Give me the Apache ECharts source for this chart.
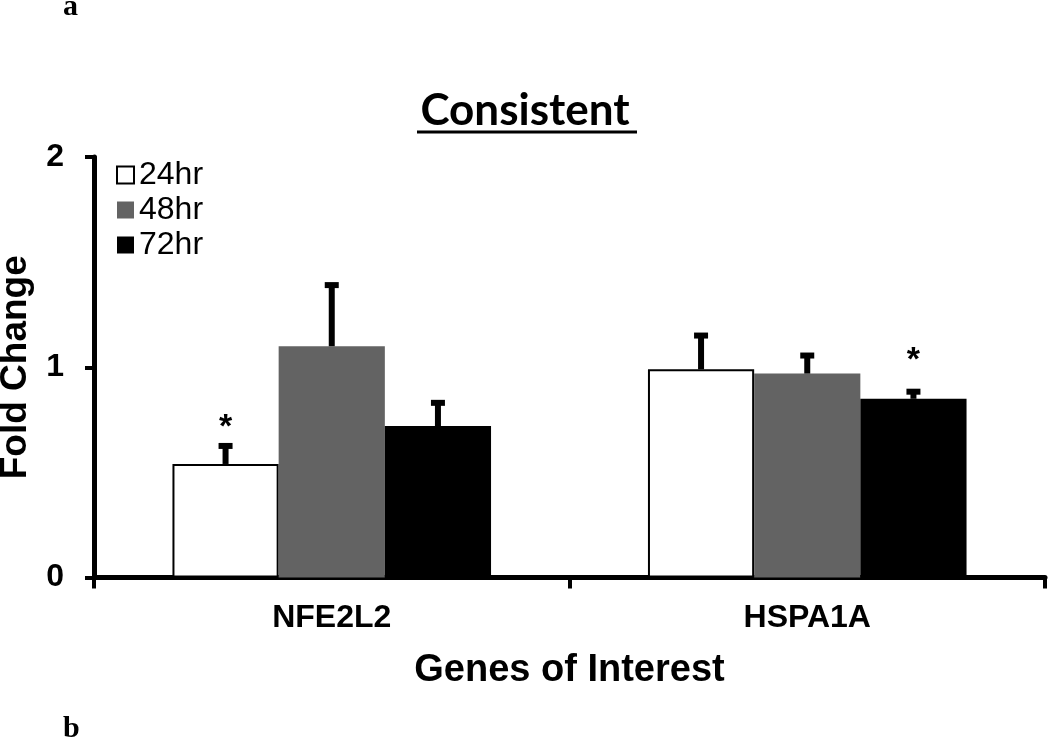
<!DOCTYPE html>
<html>
<head>
<meta charset="utf-8">
<script src="https://cdn.jsdelivr.net/npm/echarts@6/dist/echarts.min.js"></script>
<style>
html,body{margin:0;padding:0;background:#fff;}
#c{width:1050px;height:740px;}
</style>
</head>
<body>
<div id="c"></div>
<script>
// ---- data ----
const categories = ['NFE2L2', 'HSPA1A'];
const seriesNames = ['24hr', '48hr', '72hr'];
const values24 = [0.54, 0.99];
const values48 = [1.10, 0.97];
const values72 = [0.72, 0.85];
const err24 = [0.10, 0.175];
const err48 = [0.305, 0.10];
const err72 = [0.125, 0.048];
// asterisk (significance) positions in data units, null = none
const sig24 = [0.75, null];
const sig48 = [null, null];
const sig72 = [null, 1.07];
const yTicks = [0, 1, 2];

const values = [values24, values48, values72];
const errs = [err24, err48, err72];
const sigs = [sig24, sig48, sig72];
const colors = ['#ffffff', '#636363', '#000000'];
const catGap = 0.33;
const FONT = '"Liberation Sans", Arial, sans-serif';

const chart = echarts.init(document.getElementById('c'));

const barSeries = seriesNames.map((n, i) => ({
  name: n,
  type: 'bar',
  data: values[i],
  barGap: '0%',
  barCategoryGap: '33%',
  itemStyle: i === 0
    ? { color: colors[i], borderColor: '#000', borderWidth: 2 }
    : { color: colors[i], borderColor: colors[i], borderWidth: 0 },
  emphasis: { disabled: true },
  z: 2
}));

const errSeries = seriesNames.map((n, i) => ({
  name: n + '_err',
  type: 'custom',
  z: 5,
  silent: true,
  data: categories.map((c, j) => [j, values[i][j], errs[i][j], sigs[i][j] == null ? -1 : sigs[i][j]]),
  renderItem: function (params, api) {
    const cat = api.value(0);
    const v = api.value(1);
    const e = api.value(2);
    const s = api.value(3);
    const band = api.size([1, 0])[0];
    const bw = band * (1 - catGap) / 3;
    const base = api.coord([cat, v]);
    const x = base[0] + (i - 1) * bw;
    const yTop = api.coord([cat, v + e])[1];
    const children = [
      { type: 'line', shape: { x1: x, y1: base[1], x2: x, y2: yTop + 3 },
        style: { stroke: '#000', lineWidth: 6 } },
      { type: 'rect', shape: { x: x - 7, y: yTop, width: 14, height: 6 },
        style: { fill: '#000' } }
    ];
    if (s >= 0) {
      const ys = api.coord([cat, s])[1];
      children.push({ type: 'text', x: x, y: ys + 8,
        style: { text: '*', fill: '#000', font: 'bold 34px ' + FONT,
          textAlign: 'center', textVerticalAlign: 'middle' } });
    }
    return { type: 'group', children: children };
  }
}));

const option = {
  backgroundColor: '#fff',
  animation: false,
  title: {
    text: 'Consistent',
    left: 'center',
    top: 84,
    textStyle: { fontFamily: 'Lato, "Open Sans", sans-serif', fontWeight: 'bold', fontSize: 44, color: '#000' }
  },
  legend: {
    data: seriesNames,
    orient: 'vertical',
    left: 116,
    top: 159,
    icon: 'rect',
    itemWidth: 17,
    itemHeight: 17,
    itemGap: 3,
    padding: 0,
    selectedMode: false,
    textStyle: { fontFamily: FONT, fontSize: 32, color: '#000' }
  },
  grid: { left: 94, right: 5, top: 157, bottom: 162.5, containLabel: false, outerBoundsMode: 'none' },
  xAxis: {
    type: 'category',
    data: categories,
    name: 'Genes of Interest',
    nameLocation: 'middle',
    nameGap: 74,
    nameTextStyle: { fontFamily: FONT, fontWeight: 'bold', fontSize: 38, color: '#000' },
    axisLine: { lineStyle: { color: '#000', width: 5 } },
    axisTick: { show: true, length: 11, lineStyle: { color: '#000', width: 4 }, alignWithLabel: false },
    axisLabel: { margin: 25, fontFamily: FONT, fontWeight: 'bold', fontSize: 32, color: '#000' },
    splitLine: { show: false }
  },
  yAxis: {
    type: 'value',
    min: 0,
    max: 2,
    interval: 1,
    name: 'Fold Change',
    nameLocation: 'middle',
    nameGap: 60,
    nameRotate: 90,
    nameTextStyle: { fontFamily: FONT, fontWeight: 'bold', fontSize: 37, color: '#000' },
    axisLine: { show: true, lineStyle: { color: '#000', width: 5 } },
    axisTick: { show: true, length: 9, lineStyle: { color: '#000', width: 4 } },
    axisLabel: {
      margin: 30,
      fontFamily: FONT, fontWeight: 'bold', fontSize: 32, color: '#000',
      formatter: function (v) { return yTicks.indexOf(v) >= 0 ? String(v) : ''; }
    },
    splitLine: { show: false }
  },
  graphic: [
    { type: 'line', shape: { x1: 417, y1: 132, x2: 637, y2: 132 }, style: { stroke: '#000', lineWidth: 3 } },
    { type: 'text', left: 63, top: -8, style: { text: 'a', font: 'bold 30px "Liberation Serif", serif', fill: '#000' } },
    { type: 'text', left: 63, top: 714, style: { text: 'b', font: 'bold 30px "Liberation Serif", serif', fill: '#000' } }
  ],
  series: barSeries.concat(errSeries)
};

chart.setOption(option);
</script>
</body>
</html>
